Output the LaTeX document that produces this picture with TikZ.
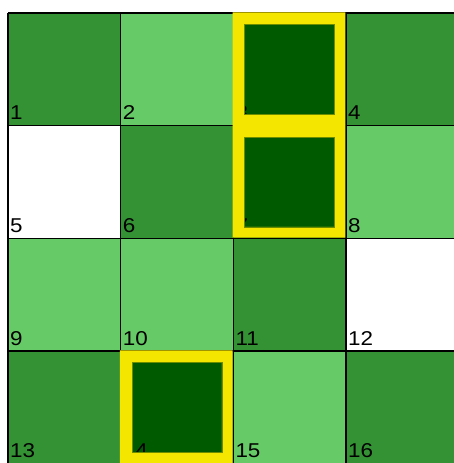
\documentclass[tikz,border=0pt]{standalone}
\usepackage{fontspec}
\setmainfont{Liberation Sans}[FakeStretch=1.12]
\definecolor{medg}{RGB}{52,145,52}
\definecolor{ltg}{RGB}{102,202,102}
\definecolor{dkg}{RGB}{0,90,0}
\definecolor{hiyel}{RGB}{245,230,0}
\definecolor{rimg}{RGB}{110,140,0}
\tikzset{
  lbl/.style={anchor=base west,inner sep=0pt,font=\fontsize{20}{20}\selectfont,text=black},
  gridln/.style={draw=black,line width=1.5pt},
}
\begin{document}
\begin{tikzpicture}[x=1pt,y=-1pt]
\useasboundingbox (0,0) rectangle (454,463);
\fill[white] (0,0) rectangle (454,463);
\def\cs{112.67}
% cell fills: index, column, row, colour
\foreach \n/\c/\r/\col in {1/0/0/medg,2/1/0/ltg,3/2/0/dkg,4/3/0/medg,
  5/0/1/white,6/1/1/medg,7/2/1/dkg,8/3/1/ltg,
  9/0/2/ltg,10/1/2/ltg,11/2/2/medg,12/3/2/white,
  13/0/3/medg,14/1/3/dkg,15/2/3/ltg,16/3/3/medg}{
  \pgfmathsetmacro{\xa}{8+\c*\cs}
  \pgfmathsetmacro{\ya}{13+\r*\cs}
  \fill[\col] (\xa,\ya) rectangle ++(\cs,\cs);
  \node[lbl] (l\n) at (\xa+2,\ya+\cs-6) {\n};
}
% grid lines
\foreach \i in {0,...,4}{
  \pgfmathsetmacro{\p}{8+\i*\cs}
  \draw[gridln] (\p,13) -- (\p,470);
  \pgfmathsetmacro{\q}{13+\i*\cs}
  \draw[gridln] (8,\q) -- (470,\q);
}
% highlighted cells: yellow frame and dark inner square
\foreach \c/\r in {2/0,2/1,1/3}{
  \pgfmathsetmacro{\xa}{8+\c*\cs}
  \pgfmathsetmacro{\ya}{13+\r*\cs}
  \fill[hiyel,even odd rule] (\xa-0.75,\ya-0.75) rectangle ++(\cs,\cs)
     (\xa+11.3,\ya+11.3) rectangle ++(90,90);
  \draw[rimg,line width=0.6pt] (\xa+11.3,\ya+11.3) rectangle ++(90,90);
}
\end{tikzpicture}
\end{document}
